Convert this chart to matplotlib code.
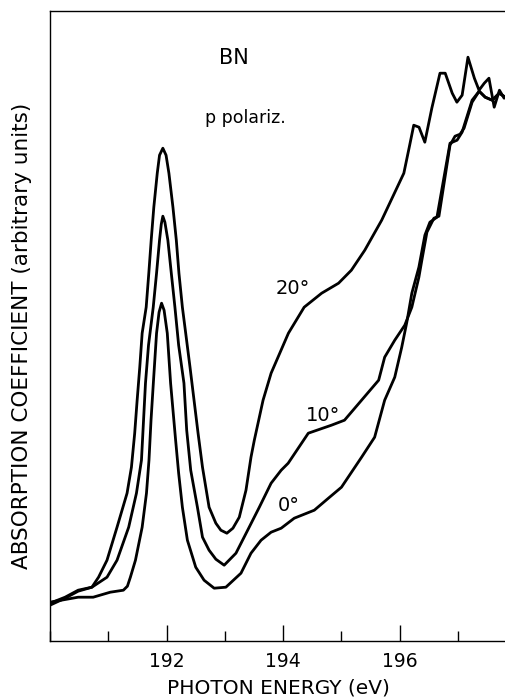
import numpy as np
import matplotlib
matplotlib.use('Agg')
import matplotlib.pyplot as plt
from matplotlib.ticker import MultipleLocator

#### Data (arbitrary units) ####

e_20 = [190.000, 190.259, 190.483, 190.719, 190.833, 190.978, 191.150, 191.322, 191.397, 191.453,
        191.495, 191.540, 191.581, 191.650, 191.695, 191.736, 191.781, 191.840, 191.879, 191.936,
        191.991, 192.040, 192.109, 192.167, 192.212, 192.271, 192.328, 192.402, 192.471, 192.540,
        192.616, 192.729, 192.845, 192.931, 193.034, 193.138, 193.247, 193.362, 193.448, 193.505,
        193.655, 193.793, 194.09, 194.36, 194.66, 194.95, 195.17, 195.40, 195.69, 196.07,
        196.17, 196.24, 196.33, 196.43, 196.55, 196.69, 196.78, 196.90, 196.98, 197.07,
        197.17, 197.28, 197.36, 197.45, 197.53, 197.62, 197.71, 197.79, 197.84]
a_20 = [0.36, 0.43, 0.50, 0.54, 0.64, 0.81, 1.14, 1.48, 1.74, 2.08,
        2.41, 2.74, 3.08, 3.34, 3.68, 4.01, 4.34, 4.68, 4.86, 4.93,
        4.86, 4.68, 4.34, 4.01, 3.68, 3.34, 3.08, 2.74, 2.41, 2.08,
        1.74, 1.34, 1.18, 1.11, 1.08, 1.13, 1.24, 1.51, 1.84, 2.01,
        2.41, 2.68, 3.08, 3.34, 3.48, 3.58, 3.71, 3.91, 4.21, 4.68,
        4.96, 5.16, 5.14, 4.99, 5.33, 5.68, 5.68, 5.48, 5.39, 5.46,
        5.84, 5.63, 5.51, 5.58, 5.63, 5.34, 5.51, 5.43, 5.46]

e_10 = [190.000, 190.259, 190.483, 190.719, 190.978, 191.150, 191.350, 191.483, 191.569, 191.638,
        191.690, 191.771, 191.828, 191.879, 191.909, 191.936, 191.971, 192.022, 192.081, 192.143,
        192.207, 192.298, 192.345, 192.414, 192.529, 192.616, 192.729, 192.845, 192.988, 193.190,
        193.391, 193.591, 193.793, 193.966, 194.086, 194.431, 194.828, 195.052, 195.345, 195.638,
        195.741, 195.914, 196.086, 196.207, 196.328, 196.379, 196.466, 196.586, 196.672, 196.862,
        196.948, 197.034, 197.103, 197.241, 197.362, 197.466, 197.586, 197.707, 197.810, 197.845]
a_10 = [0.38, 0.44, 0.51, 0.54, 0.64, 0.81, 1.14, 1.48, 1.81, 2.58,
        2.96, 3.34, 3.68, 4.01, 4.17, 4.25, 4.19, 4.01, 3.68, 3.34,
        2.96, 2.58, 2.11, 1.71, 1.34, 1.04, 0.91, 0.82, 0.76, 0.88,
        1.11, 1.34, 1.58, 1.71, 1.78, 2.08, 2.16, 2.21, 2.41, 2.61,
        2.84, 3.01, 3.16, 3.34, 3.64, 3.81, 4.09, 4.23, 4.25, 4.96,
        5.05, 5.07, 5.13, 5.39, 5.50, 5.44, 5.41, 5.48, 5.44, 5.45]

e_0 = [190.000, 190.483, 190.741, 191.034, 191.259, 191.328, 191.379, 191.466, 191.581, 191.655,
       191.698, 191.733, 191.776, 191.828, 191.871, 191.914, 191.957, 192.012, 192.069, 192.155,
       192.207, 192.271, 192.357, 192.500, 192.643, 192.816, 193.017, 193.276, 193.448, 193.621,
       193.793, 193.966, 194.190, 194.534, 194.776, 195.000, 195.345, 195.569, 195.741, 195.914,
       196.034, 196.121, 196.207, 196.328, 196.431, 196.517, 196.638, 196.862, 196.983, 197.069,
       197.241, 197.362, 197.466, 197.586, 197.707, 197.810, 197.845]
a_0 = [0.39, 0.44, 0.44, 0.49, 0.51, 0.55, 0.64, 0.81, 1.14, 1.48,
       1.81, 2.21, 2.61, 3.08, 3.29, 3.38, 3.31, 3.08, 2.58, 2.01,
       1.68, 1.34, 1.01, 0.74, 0.61, 0.53, 0.54, 0.68, 0.88, 1.01,
       1.09, 1.13, 1.23, 1.31, 1.43, 1.54, 1.84, 2.04, 2.41, 2.64,
       2.94, 3.19, 3.48, 3.74, 4.06, 4.19, 4.24, 4.98, 5.01, 5.09,
       5.41, 5.50, 5.44, 5.41, 5.48, 5.44, 5.45]

major_ticks = [192, 194, 196]
angle_labels = ['20°', '10°', '0°']
label_pos = [(194.17, 3.53), (194.69, 2.26), (194.09, 1.36)]

####################

fig = plt.figure(figsize=(5.05, 7), dpi=100)
ax = fig.add_axes([0.099, 0.084, 0.905, 0.9])

for e, a in [(e_20, a_20), (e_10, a_10), (e_0, a_0)]:
    ax.plot(e, a, color='black', lw=2.0, solid_joinstyle='round', solid_capstyle='round')

for txt, (x, y) in zip(angle_labels, label_pos):
    ax.text(x, y, txt, fontsize=14, ha='center', va='center')

ax.text(193.16, 5.83, 'BN', fontsize=15, ha='center', va='center')
ax.text(193.36, 5.23, 'p polariz.', fontsize=12.5, ha='center', va='center')

ax.set_xlim(190.0, 197.84)
ax.set_ylim(0, 6.3)
ax.xaxis.set_minor_locator(MultipleLocator(1))
ax.set_xticks(major_ticks)
ax.set_yticks([])
ax.tick_params(axis='x', which='major', direction='in', length=11.5, width=1.0,
               labelsize=13.5, pad=8)
ax.tick_params(axis='x', which='minor', direction='in', length=7, width=1.0)
ax.spines['right'].set_visible(False)
for s in ['left', 'bottom', 'top']:
    ax.spines[s].set_linewidth(1.0)

ax.set_xlabel('PHOTON ENERGY (eV)', fontsize=14.5, labelpad=5)
fig.text(0.044, 0.52, 'ABSORPTION COEFFICIENT (arbitrary units)', rotation=90,
         fontsize=15.5, ha='center', va='center')

plt.savefig('out.png', dpi=100)
